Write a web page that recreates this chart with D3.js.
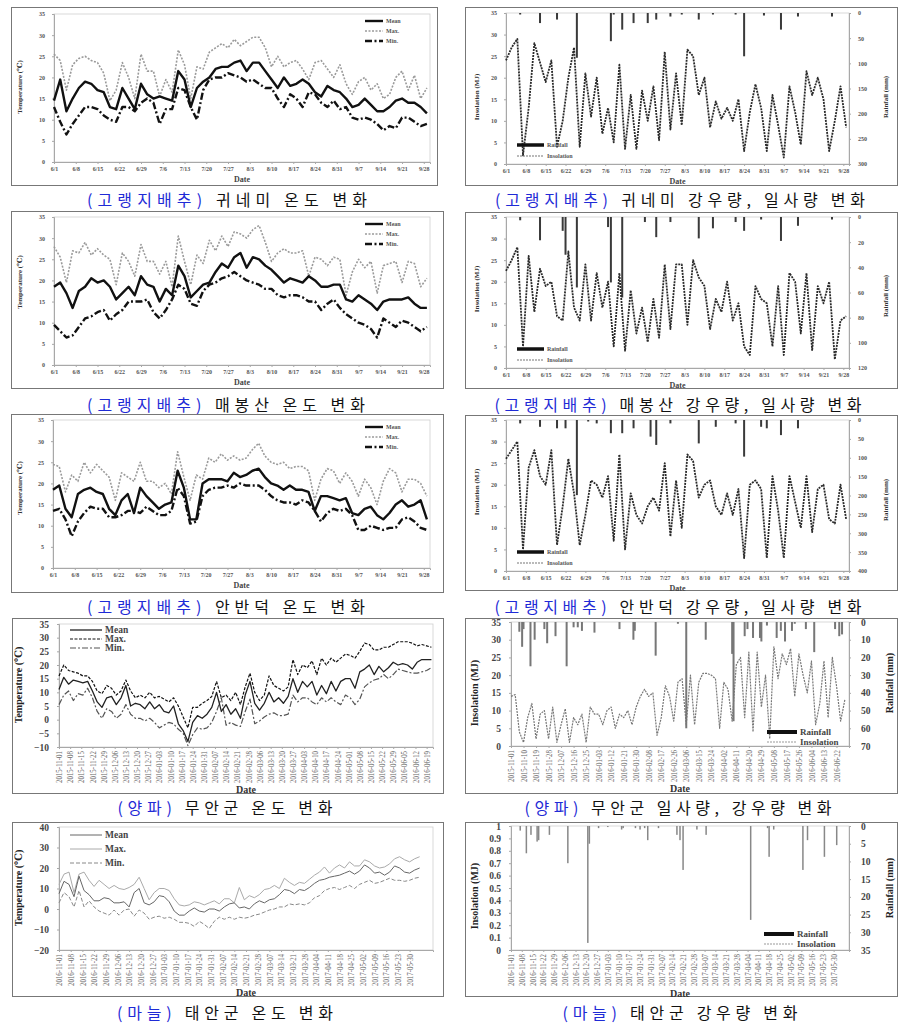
<!DOCTYPE html>
<html>
<head>
<meta charset="utf-8">
<script src="https://cdn.jsdelivr.net/npm/d3@7"></script>
<style>
  body { margin: 0; background: #fff; }
  svg { display: block; }
</style>
</head>
<body>
<svg id="chart" width="904" height="1027"></svg>
<script>
// ---- cabbage (6/1 - 9/30), values every 2 days ----
const cabbageTicks = ["6/1","6/8","6/15","6/22","6/29","7/6","7/13","7/20","7/27","8/3","8/10","8/17","8/24","8/31","9/7","9/14","9/21","9/28"];

const gwiMean = [14.5,19.5,12,15,17.5,19,18.5,17,16.5,13,12.5,17.5,15,12.5,18.5,16,15,15.5,15,14.5,21.5,19.5,13,17.5,19,20,22,22.5,22.5,23.5,24,21.5,23.5,23.5,21.5,19.5,17.5,20,18,18.5,19.5,18.5,16.5,15.5,18,17,16.5,15,13,13.5,15,13.5,12,12,13,14.5,15,14,14,13,11.5];
const gwiMax = [25.5,24,17,23,24.5,25,24,23.5,21,14.5,17,23.5,20,15,25.5,21.5,21.5,15.5,19.5,16.5,26.5,23,15,22.5,22,26,27,28,27,29,27.5,28.5,29.5,29.5,27,22.5,25,22.5,23.5,24,22,19.5,23.5,24,22,20,23,18.5,16,19,20,17,18.5,15,16,20,21.5,17,20.5,15,17.5];
const gwiMin = [13,9.5,6.5,9,11,13,13,12.5,11,10,9.5,13,13,12,14,15,14,9,12.5,12.5,17.5,17,13,10,17,19.5,20,20,21,20.5,20,19,19.5,18.5,17.5,17.5,15,13,16,15,13,16.5,16,14,13,14.5,12.5,13,10.5,10,10.5,10,9,7.5,8.5,8,10.5,10.5,9.5,8.5,9];

const maeMean = [18.5,19.5,17,13.5,17.5,18.5,20.5,19.5,20,18.5,15.5,17,18.5,16.5,21,19,18.5,15,18,16.5,23.5,21,16,17.5,19,19.5,22,24,23,25.5,26.5,23,25.5,25,23.5,22.5,21,19.5,20.5,20,19.5,21,20,18.5,18.5,19,19,15.5,15,16.5,15.5,14.5,13,15,15.5,15.5,15.5,16,14.5,13.5,13.5];
const maeMax = [28,25.5,19.5,27,26.5,29,26,27.5,26,25,19,26.5,24.5,21,28.5,24.5,24.5,21.5,24.5,18.5,30.5,24.5,19,26,24,29.5,27,30.5,28,31.5,31,30,32,33,29,24.5,26.5,27.5,26.5,26.5,27,21,25.5,25,23.5,25.5,25,16.5,22,25,23,24.5,17,23.5,24,24.5,19.5,24.5,24,18.5,20.5];
const maeMin = [9.5,8,6.5,7,9,11,11.5,12.5,13,10.5,12,13,15,15,15,15.5,12.5,11,13,15.5,19,18,14.5,14,17.5,19,19.5,20.5,21,22,21,20,19.5,19,18,18,16.5,16,16.5,16.5,16,15,15,13,14.5,15.5,13.5,12,11,10,9.5,8.5,6.5,11,10,9,10.5,10,9,8,9];

const anbMean = [18.5,19.5,14,12,17.5,18.5,19,18,17.5,14,12.5,16,17.5,13,19,17,15.5,14,15,15.5,23,19,11.5,11.5,20,21,21,21,20.5,22.5,21.5,22,23,23.5,21.5,20,19.5,18.5,19.5,18.5,18.5,18,13.5,17,17,16.5,16,16.5,13,12.5,14,14.5,12.5,11.5,13,15,16,14.5,15,16,11.5];
const anbMax = [24.5,24,18,22,20.5,25,22.5,24.5,23,21.5,16,22.5,21.5,20.5,25,20.5,20.5,19,20,17.5,27.5,21.5,16,22,21,26,25,27,25.5,26.5,25.5,26,28,29.5,26.5,25,24.5,25,23.5,24,24,23,16,21,23.5,23,20,22.5,20.5,17,21,19,15,20.5,23.5,22.5,18,21,21,20,17];
const anbMin = [13.5,14,11.5,7.5,11,13,14.5,14,14,12,12,12.5,13.5,13.5,13,14.5,13.5,12.5,12.5,13.5,19,17,10.5,11,17,18.5,19,19,19.5,19,20,19.5,19.5,19.5,18.5,17,16,15.5,15.5,15,16,15.5,13.5,11,13,14,13.5,14,12.5,9,9,10,9.5,9,9.5,9.5,11.5,12,11,9.5,9];

const gwiIns = [24,27,29,2,13,28,23.5,19,24,4,10,20,27,4,21,11,20,7,13,5,23,3.5,16,3.5,17,10,18,5.5,26,8,21,9,26.5,25,16,20,8.5,14.5,10.5,13,10,15,3,12,18.5,13,3,16,9,1.5,18,12,4.5,21.5,16,20,15,3,10,18,8.5];
const maeIns = [22.5,25,28,5,26,13,23,19,20,12,11,27,14,11,24,11,22,14,20,5,22,4,18,8,14,6,16,7,24,9,24,24,10,25,21,19,9,16,13,20,11,15,5,3,19,16,15,5,19,3,22,20,8,22,4,19,15,20,2,11,12];
const anbIns = [26,28,30,5,24,28,22,20,28,6,15,26,18,6,13,21,20,17,22,7,27,5,18,13,11,15,17,14,25,8,21,10,27,25.5,17,20,21,15,13,18,13,19,3,20,21,19,3,22,14,3,22,16,10,22,9,19,20,12,11,20,12];

const gwiRainDay = [5,12,18,25,37,38,41,45,50,53,58,62,68,73,81,84,91,97,103,115];
const gwiRainMm = [3,20,13,89,56,3,33,20,20,13,7,3,13,3,3,86,5,33,7,7];
const maeRainDay = [5,12,20,21,25,36,37,41,49,53,58,68,73,81,84,90,97,103,115];
const maeRainMm = [2.6,18.5,11,30,56,8,52,64,4,16,4,17,9,4,11,2,19,7,2];
const anbRainDay = [5,12,18,21,25,29,32,37,41,45,51,53,58,68,74,81,84,90,92,97,103];
const anbRainMm = [9,18,22,22,199,4,9,35,35,22,44,66,9,62,18,9,97,18,22,40,22];

// ---- onion (from 2015-11-01), temperature every 3 days ----
const onionMean = [11,15.5,13,14.5,14,13.5,14,10.5,6.5,4.5,8,8.5,5.5,8,12.5,5,6,5.5,4,6.5,4,5.5,3,2.5,5,-1.5,-4,-8,-1,1.5,0.5,2,4.5,10,3,5.5,2,4,0.5,9,14,6,3.5,6,10,6.5,8,6,8.5,15,10,14,12,14,9,12.5,9.5,14,10.5,14,15,15,11.5,17.5,18.5,20,16.5,19.5,17.5,19,21,20,20.5,20,18.5,21,22,22,22];
const onionMax = [16,20,18,17.5,17,16,16,14,10.5,9.5,12.5,11.5,9,10.5,14.5,10.5,8,9,8,10,8,8.5,7.5,6.5,8,5,1,-3,4.5,4.5,6,7,8.5,14,8,9,7,10,5.5,12,17,10,7,9,16,12.5,11.5,10.5,12,22,16.5,20,19,21.5,16.5,22.5,20,22.5,21,22.5,24,23.5,22.5,25,28,27.5,25.5,25.5,26.5,26.5,27.5,28.5,28.5,28.5,28,27,27.5,27,26.5];
const onionMin = [5.5,9,10.5,7,9.5,9,11.5,8,3,0.5,4,3,0.5,2,5.5,2,0.5,0.5,-0.5,0.5,-1,-3,-2,-1,-1.5,-3.5,-5,-9.5,-5.5,-3,-3.5,-3,-1,3,8,-2,-1,-2,-2.5,3,7.5,-1.5,-0.5,1,2,2.5,1.5,1.5,2,9,6.5,8,8,6.5,5.5,8,6.5,8,6.5,5.5,9,8,5.5,7.5,12,13.5,14.5,15,16.5,15,16.5,18.5,18,17.5,17,17,17.5,18,19];
const onionIns = [14,14.5,4,1,8,12,2,9,10,2,11,1,6,10.5,1,8,6,9,1,11,9,9,6,10,11,5,9,8,10,6,11,14,16,14,15,3,8,17,14,7,18,19,6,20,6,18,20.5,20.5,20,19,5,18,16,7,23,25,8,26.5,4,26.5,11,20,2,28,19,26,23,27.5,14,26,20,15,24,6,12,24,8,25,17,7,13];
const onionRainDay = [6,8,9,14,17,24,26,32,40,45,48,51,60,78,88,89,104,120,126,140,159,160,168,170,174,179,180,184,191,194,197,202,204,212,218,233,236,238];
const onionRainMm = [5.5,14,4,25,10,4,12,8,25,3,3,5,6,4,10,5,19,1,60,10,18,56,8,4,9,9,11,2,9,5,11,5,1,4,17,4,8,7];

// ---- garlic (from 2016-11-01), temperature every 3 days ----
const garlicMean = [7.5,13.5,12,6,16,9,7,4,4,5.5,5,3,3,3.5,1,8,10,3,2,3.5,6.5,6,3.5,-1,-3,-3,-1,0.5,-1,-1.5,0,0,-1,1,2.5,3,0.5,1,0,2.5,4,3,4.5,5,7,9.5,9,7.5,9.5,9,10.5,12.5,14,14.5,15.5,16,16.5,17.5,18.5,17,18.5,21.5,20,17.5,18,16.5,18,21,20,18,17.5,19,20];
const garlicMax = [12,17,18,8,17,18,14,11,14,12,10,11.5,10,9.5,10.5,12,15.5,10,4.5,8,10,10,9,5,2,1.5,2,3.5,3,2,3,4,2.5,5,5,3,10.5,4.5,6.5,5.5,7,9.5,10,11.5,10,15,13,11.5,13,12.5,14.5,16.5,18,20.5,17.5,20,21.5,20,23,21,21,24,23,21,20,20.5,22,24.5,25.5,24,23,24.5,25.5];
const garlicMin = [3,8,6,1,9,1,4,1,-1,-2,-3,-0.5,-3,-0.5,0,-3.5,-0.5,-2,-5,-4,-3.5,-4.5,-4,-5,-6.5,-6.5,-7,-8.5,-6,-7.5,-9.5,-6,-4,-5,-4,-5,-4,-4.5,-4,-3,-2.5,-1.5,-0.5,0,1,1,2.5,2,2.5,2,3,5.5,6.5,9,10,10.5,9.5,10.5,11.5,10,12,13,14,12.5,13,14,15,14,14,13.5,14,15,15.5];
const garlicRainDay = [6,10,13,17,18,25,37,50,51,57,63,72,73,81,84,87,89,96,108,110,112,121,127,156,167,168,171,190,193,204,212];
const garlicRainMm = [1.3,7.7,2.5,4.4,4,2.5,10.5,33,5,0.6,0.3,1,0.6,0.6,1,0.6,4,0.6,2.5,4,12.4,1,2.5,26.5,0.6,8.7,1,12.4,4,8.7,5.4];

// ---- axis tick values ----
const cabTempTicks = [0,5,10,15,20,25,30,35];
const sunTicks = [0,5,10,15,20,25,30,35];
const gwiRainTicks = [0,50,100,150,200,250,300];
const maeRainTicks = [0,20,40,60,80,100,120];
const anbRainTicks = [0,50,100,150,200,250,300,350,400];
const onionTempTicks = [-10,-5,0,5,10,15,20,25,30,35];
const onionRainTicks = [0,10,20,30,40,50,60,70];
const garlicTempTicks = [-20,-10,0,10,20,30,40];
const garlicSunTicks = [0,0.1,0.2,0.3,0.4,0.5,0.6,0.7,0.8,0.9,1];
const garlicRainTicks = [0,5,10,15,20,25,30,35];

const svg = d3.select("#chart");
const SERIF = "'Liberation Serif','DejaVu Serif',serif";
const KR = "'Noto Sans CJK KR','Noto Sans',sans-serif";

function frame(x0, y0, x1, y1) {
    svg.append("rect")
        .attr("x", x0 + 0.5).attr("y", y0 + 0.5)
        .attr("width", x1 - x0).attr("height", y1 - y0)
        .attr("fill", "none").attr("stroke", "#777").attr("stroke-width", 1);
}

function plotBox(l, r, t, b) {
    svg.append("rect")
        .attr("x", l).attr("y", t).attr("width", r - l).attr("height", b - t)
        .attr("fill", "none").attr("stroke", "#cfcfcf").attr("stroke-width", 0.8);
}

function styleAxis(g, size, color) {
    g.select(".domain").attr("stroke", "#a8a8a8");
    g.selectAll(".tick line").attr("stroke", "#a8a8a8");
    g.selectAll("text")
        .attr("font-family", SERIF).attr("font-size", size)
        .attr("font-weight", "bold").attr("fill", color);
}

function vText(x, y, txt, size, color) {
    svg.append("text")
        .attr("transform", `translate(${x},${y}) rotate(-90)`)
        .attr("text-anchor", "middle").attr("dy", "0.35em")
        .attr("font-family", SERIF).attr("font-size", size).attr("font-weight", "bold")
        .attr("fill", color).text(txt);
}

function hText(x, y, txt, size, color, anchor) {
    svg.append("text")
        .attr("x", x).attr("y", y).attr("dy", "0.35em")
        .attr("text-anchor", anchor || "middle")
        .attr("font-family", SERIF).attr("font-size", size).attr("font-weight", "bold")
        .attr("fill", color).text(txt);
}

function drawLine(vals, step, xd, y, st) {
    const line = d3.line().x((d, i) => xd(i * step)).y(d => y(d));
    svg.append("path")
        .attr("d", line(vals))
        .attr("fill", "none")
        .attr("stroke", st.c).attr("stroke-width", st.w)
        .attr("stroke-dasharray", st.dash || null)
        .attr("stroke-linejoin", "round");
}

function legendRow(x0, x1, y, st, label, size, color) {
    svg.append("line")
        .attr("x1", x0).attr("x2", x1).attr("y1", y).attr("y2", y)
        .attr("stroke", st.c).attr("stroke-width", st.w)
        .attr("stroke-dasharray", st.dash || null);
    hText(x1 + 3, y, label, size, color, "start");
}

function drawBars(days, mm, xd, yR, top, w, fill) {
    svg.append("g").selectAll("rect")
        .data(days)
        .enter()
        .append("rect")
        .attr("x", d => xd(d) - w / 2)
        .attr("y", top)
        .attr("width", w)
        .attr("height", (d, i) => yR(mm[i]) - top)
        .attr("fill", fill);
}

function caption(cx, cy, tag, rest, width) {
    const t = svg.append("text")
        .attr("x", cx).attr("y", cy + 6)
        .attr("text-anchor", "middle")
        .attr("font-family", KR).attr("font-size", 16)
        .attr("textLength", width).attr("lengthAdjust", "spacing");
    t.append("tspan").attr("fill", "#1f2bd6").text(tag);
    t.append("tspan").attr("fill", "#111").text(rest);
}

// ---- cabbage panels ----
const cabStyles = {
    mean: { c: "#111", w: 2.4 },
    max: { c: "#9a9a9a", w: 1.6, dash: "2,1.5" },
    min: { c: "#111", w: 2.4, dash: "7,2.5,2,2.5" }
};

function cabbageXAxis(x, b) {
    const gx = svg.append("g").attr("transform", `translate(0,${b})`)
        .call(d3.axisBottom(x).tickValues(cabbageTicks.map((t, i) => i * 7))
            .tickFormat((d, i) => cabbageTicks[i]).tickSize(2).tickPadding(3));
    styleAxis(gx, 6, "#555");
}

function cabbageTemp(p, mean, max, min) {
    frame(p.fx0, p.fy0, p.fx1, p.fy1);
    const x = d3.scaleLinear().domain([0, 121]).range([p.l, p.r]);
    const y = d3.scaleLinear().domain([0, 35]).range([p.b, p.t]);
    plotBox(p.l, p.r, p.t, p.b);

    const gy = svg.append("g").attr("transform", `translate(${p.l},0)`)
        .call(d3.axisLeft(y).tickValues(cabTempTicks).tickSize(2).tickPadding(7));
    styleAxis(gy, 6, "#555");
    cabbageXAxis(x, p.b);

    drawLine(max, 2, x, y, cabStyles.max);
    drawLine(min, 2, x, y, cabStyles.min);
    drawLine(mean, 2, x, y, cabStyles.mean);

    legendRow(365, 383, p.t + 7, cabStyles.mean, "Mean", 6, "#555");
    legendRow(365, 383, p.t + 17, cabStyles.max, "Max.", 6, "#555");
    legendRow(365, 383, p.t + 27, cabStyles.min, "Min.", 6, "#555");

    vText(20, p.titleY, "Temperature (℃)", 7, "#333");
    hText((p.l + p.r) / 2, p.b + 17, "Date", 8, "#444");
}

const sunStyle = { c: "#2a2a2a", w: 1.8, dash: "2,1" };
const rainLegend = { c: "#111", w: 3.5 };

function cabbageSun(p, ins, rainDay, rainMm, rainTicks) {
    frame(p.fx0, p.fy0, p.fx1, p.fy1);
    const x = d3.scaleLinear().domain([0, 121]).range([p.l, p.r]);
    const yL = d3.scaleLinear().domain([0, 35]).range([p.b, p.t]);
    const yR = d3.scaleLinear().domain([0, rainTicks[rainTicks.length - 1]]).range([p.t, p.b]);
    plotBox(p.l, p.r, p.t, p.b);

    const gl = svg.append("g").attr("transform", `translate(${p.l},0)`)
        .call(d3.axisLeft(yL).tickValues(sunTicks).tickSize(2).tickPadding(7));
    styleAxis(gl, 6, "#555");
    const gr = svg.append("g").attr("transform", `translate(${p.r},0)`)
        .call(d3.axisRight(yR).tickValues(rainTicks).tickSize(2).tickPadding(7));
    styleAxis(gr, 6, "#555");
    cabbageXAxis(x, p.b);

    drawBars(rainDay, rainMm, x, yR, p.t, 2, "#3a3a3a");
    drawLine(ins, 2, x, yL, sunStyle);

    legendRow(p.l + 11, p.l + 38, p.b - 19, rainLegend, "Rainfall", 6, "#555");
    legendRow(p.l + 11, p.l + 38, p.b - 8, { c: "#777", w: 1.2, dash: "2,1" }, "Insolation", 6, "#555");

    vText(477, p.titleY, "Insolation (MJ)", 7, "#333");
    vText(886, p.titleY2, "Rainfall (mm)", 7, "#333");
    hText((p.l + p.r) / 2, p.b + 17, "Date", 8, "#444");
}

cabbageTemp({ fx0: 11, fy0: 7, fx1: 437, fy1: 185, l: 54, r: 430, t: 14, b: 162, titleY: 87 }, gwiMean, gwiMax, gwiMin);
cabbageTemp({ fx0: 11, fy0: 211, fx1: 443, fy1: 388, l: 54, r: 430, t: 217, b: 365, titleY: 282 }, maeMean, maeMax, maeMin);
cabbageTemp({ fx0: 11, fy0: 414, fx1: 443, fy1: 592, l: 53, r: 430, t: 420, b: 568, titleY: 488 }, anbMean, anbMax, anbMin);

cabbageSun({ fx0: 465, fy0: 7, fx1: 897, fy1: 185, l: 506, r: 849, t: 13, b: 164, titleY: 97, titleY2: 97 }, gwiIns, gwiRainDay, gwiRainMm, gwiRainTicks);
cabbageSun({ fx0: 465, fy0: 212, fx1: 897, fy1: 388, l: 506, r: 849, t: 217, b: 368, titleY: 289, titleY2: 296 }, maeIns, maeRainDay, maeRainMm, maeRainTicks);
cabbageSun({ fx0: 465, fy0: 415, fx1: 897, fy1: 590, l: 506, r: 849, t: 420, b: 571, titleY: 492, titleY2: 500 }, anbIns, anbRainDay, anbRainMm, anbRainTicks);

// ---- onion / garlic panels (time axis) ----
const fmtDate = d3.timeFormat("%Y-%m-%d");

function dateAxis(x, start, end, step, b) {
    const g = svg.append("g").attr("transform", `translate(0,${b})`)
        .call(d3.axisBottom(x).tickValues(d3.timeDay.range(start, end, step))
            .tickFormat(fmtDate).tickSize(2).tickPadding(2));
    styleAxis(g, 7.5, "#666");
    g.selectAll("text")
        .attr("font-weight", "normal")
        .attr("transform", "rotate(-90)")
        .attr("text-anchor", "end")
        .attr("x", -4).attr("y", 0).attr("dy", "0.35em")
        .attr("textLength", 32).attr("lengthAdjust", "spacingAndGlyphs");
}

function timeTemp(p, start, endDom, tickEnd, series, yDom, yTicks, styles) {
    frame(p.fx0, p.fy0, p.fx1, p.fy1);
    const x = d3.scaleTime().domain([start, endDom]).range([p.l, p.r]);
    const xd = d => x(d3.timeDay.offset(start, d));
    const y = d3.scaleLinear().domain(yDom).range([p.b, p.t]);
    plotBox(p.l, p.r, p.t, p.b);

    const gy = svg.append("g").attr("transform", `translate(${p.l},0)`)
        .call(d3.axisLeft(y).tickValues(yTicks).tickSize(2).tickPadding(8));
    styleAxis(gy, 9.5, "#444");
    dateAxis(x, start, tickEnd, 7, p.b);

    drawLine(series.max, 3, xd, y, styles.max);
    drawLine(series.min, 3, xd, y, styles.min);
    drawLine(series.mean, 3, xd, y, styles.mean);

    legendRow(70, 102, p.ly, styles.mean, "Mean", 9.5, "#444");
    legendRow(70, 102, p.ly + p.ldy, styles.max, "Max.", 9.5, "#444");
    legendRow(70, 102, p.ly + 2 * p.ldy, styles.min, "Min.", 9.5, "#444");

    vText(18, p.titleY, "Temperature (℃)", 10, "#222");
    hText((p.l + p.r) / 2, p.dateY, "Date", 10, "#333");
}

const onionStyles = {
    mean: { c: "#222", w: 1.3 },
    max: { c: "#111", w: 1.2, dash: "3,1.5" },
    min: { c: "#555", w: 1.2, dash: "6,2,2,2" }
};
const garlicStyles = {
    mean: { c: "#666", w: 1 },
    max: { c: "#aaa", w: 1 },
    min: { c: "#888", w: 1, dash: "4,2" }
};

timeTemp({ fx0: 12, fy0: 618, fx1: 443, fy1: 793, l: 59, r: 433, t: 624, b: 747, ly: 630, ldy: 9, titleY: 685, dateY: 789 },
    new Date(2015, 10, 1), new Date(2016, 5, 23), new Date(2016, 5, 21),
    { mean: onionMean, max: onionMax, min: onionMin }, [-10, 35], onionTempTicks, onionStyles);

timeTemp({ fx0: 12, fy0: 822, fx1: 443, fy1: 996, l: 59, r: 433, t: 827, b: 950, ly: 835, ldy: 14, titleY: 888, dateY: 992 },
    new Date(2016, 10, 1), new Date(2017, 5, 13), new Date(2017, 4, 31),
    { mean: garlicMean, max: garlicMax, min: garlicMin }, [-20, 40], garlicTempTicks, garlicStyles);

function timeSun(p, start, endDom, tickEnd, step, ins, rainDay, rainMm, sunDom, sunT, rainT, barFill, barW) {
    frame(p.fx0, p.fy0, p.fx1, p.fy1);
    const x = d3.scaleTime().domain([start, endDom]).range([p.l, p.r]);
    const xd = d => x(d3.timeDay.offset(start, d));
    const yL = d3.scaleLinear().domain(sunDom).range([p.b, p.t]);
    const yR = d3.scaleLinear().domain([0, rainT[rainT.length - 1]]).range([p.t, p.b]);
    plotBox(p.l, p.r, p.t, p.b);

    const gl = svg.append("g").attr("transform", `translate(${p.l},0)`)
        .call(d3.axisLeft(yL).tickValues(sunT).tickFormat(d3.format("~g")).tickSize(2).tickPadding(8));
    styleAxis(gl, 9.5, "#444");
    const gr = svg.append("g").attr("transform", `translate(${p.r},0)`)
        .call(d3.axisRight(yR).tickValues(rainT).tickSize(2).tickPadding(10));
    styleAxis(gr, 9.5, "#444");
    dateAxis(x, start, tickEnd, step, p.b);

    drawBars(rainDay, rainMm, xd, yR, p.t, barW, barFill);
    if (ins) drawLine(ins, 3, xd, yL, { c: "#777", w: 1.2, dash: "2,1" });

    legendRow(p.lx, p.lx + 30, p.ly, { c: "#111", w: 4 }, "Rainfall", 9, "#444");
    legendRow(p.lx, p.lx + 30, p.ly + 10, { c: "#999", w: 1, dash: "2,1" }, "Insolation", 9, "#444");

    vText(474, p.titleY, "Insolation (MJ)", 10, "#222");
    vText(889, p.titleY2, "Rainfall (mm)", 10, "#222");
    hText((p.l + p.r) / 2, p.dateY, "Date", 10, "#333");
}

timeSun({ fx0: 465, fy0: 618, fx1: 897, fy1: 793, l: 511, r: 849, t: 622, b: 746, lx: 767, ly: 732, titleY: 693, titleY2: 683, dateY: 788 },
    new Date(2015, 10, 1), new Date(2016, 6, 1), new Date(2016, 5, 24), 9,
    onionIns, onionRainDay, onionRainMm, [0, 35], sunTicks, onionRainTicks, "#777", 2);

timeSun({ fx0: 465, fy0: 822, fx1: 897, fy1: 996, l: 511, r: 849, t: 826, b: 950, lx: 764, ly: 934, titleY: 896, titleY2: 888, dateY: 993 },
    new Date(2016, 10, 1), new Date(2017, 5, 9), new Date(2017, 4, 31), 7,
    null, garlicRainDay, garlicRainMm, [0, 1], garlicSunTicks, garlicRainTicks, "#888", 1.5);

// ---- captions ----
caption(227, 200, "(고랭지배추)", " 귀네미 온도 변화", 280);
caption(680, 200, "(고랭지배추)", " 귀네미 강우량, 일사량 변화", 370);
caption(226, 405, "(고랭지배추)", " 매봉산 온도 변화", 278);
caption(678, 405, "(고랭지배추)", " 매봉산 강우량, 일사량 변화", 367);
caption(226, 607, "(고랭지배추)", " 안반덕 온도 변화", 278);
caption(678, 607, "(고랭지배추)", " 안반덕 강우량, 일사량 변화", 367);
caption(225, 808, "(양파)", " 무안군 온도 변화", 215);
caption(678, 808, "(양파)", " 무안군 일사량, 강우량 변화", 307);
caption(225, 1013, "(마늘)", " 태안군 온도 변화", 216);
caption(680, 1013, "(마늘)", " 태안군 강우량 변화", 235);
</script>
</body>
</html>
